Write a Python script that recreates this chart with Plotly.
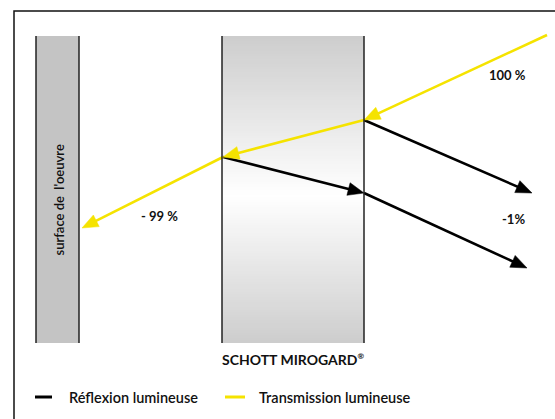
import numpy as np
import plotly.graph_objects as go

# ---- diagram data (pixel space of the 555x419 canvas) ----
frame_box = [14, 11, 700, 700]
surface_bar = [36, 79, 36, 343]          # x0, x1, y0, y1
glass_bar = [222, 364, 36, 343]
surface_label = "surface de  l'oeuvre"
glass_label = "SCHOTT MIROGARD<sup><span style='font-size:8px'>®</span></sup>"

# rays: (x0, y0, x1, y1) — arrow at end point
transmission_rays = [
    (547, 35, 364, 120),
    (364, 120, 223, 157),
    (223, 157, 82, 228),
]
reflection_rays = [
    (364, 120, 532, 193),
    (223, 157, 364, 193),
    (364, 193, 527, 268),
]
ray_labels = ["100 %", "-1%", "- 99 %"]
ray_label_pos = [(507, 75), (513, 219), (159, 216)]

legend_labels = ["Réflexion lumineuse", "Transmission lumineuse"]
legend_colors = ["#000000", "#f5e300"]
legend_line_x = [(35, 52), (225, 245)]
legend_text_x = [67, 257]
legend_y = 397

YELLOW = "#f5e300"
BLACK = "#000000"

fig = go.Figure()

# gradient for glass pane
N = 120
ys = np.linspace(glass_bar[2], glass_bar[3], N + 1)
yc = (ys[:-1] + ys[1:]) / 2
mid = 195
t = np.where(yc < mid, (mid - yc) / (mid - glass_bar[2]), (yc - mid) / (glass_bar[3] - mid))
z = (1 - t).reshape(-1, 1)
fig.add_trace(go.Heatmap(
    x=[glass_bar[0], glass_bar[1]], y=ys, z=z,
    colorscale=[[0, "#cdcdcd"], [0.6, "#ebebeb"], [1, "#ffffff"]],
    showscale=False, hoverinfo="skip", zmin=0, zmax=1))

shapes = []
shapes.append(dict(type="rect", x0=frame_box[0], y0=frame_box[1], x1=frame_box[2], y1=frame_box[3],
                   line=dict(color="#111", width=1.5), fillcolor="rgba(0,0,0,0)", layer="below"))
shapes.append(dict(type="rect", x0=surface_bar[0], x1=surface_bar[1], y0=surface_bar[2], y1=surface_bar[3],
                   line=dict(width=0), fillcolor="#c4c4c4", layer="below"))
for bar in (surface_bar, glass_bar):
    for xv in (bar[0], bar[1]):
        shapes.append(dict(type="line", x0=xv, x1=xv, y0=bar[2], y1=bar[3],
                           line=dict(color="#222", width=1.5)))

def add_ray(seg, color):
    x0, y0, x1, y1 = seg
    d = np.array([x1 - x0, y1 - y0], float)
    L = np.hypot(*d)
    u = d / L
    n = np.array([-u[1], u[0]])
    hl, hw = 16, 6.5
    base = np.array([x1, y1]) - u * hl
    fig.add_trace(go.Scatter(x=[x0, base[0] + u[0] * 2], y=[y0, base[1] + u[1] * 2], mode="lines",
                             line=dict(color=color, width=2.6), hoverinfo="skip", showlegend=False))
    p1 = base + n * hw
    p2 = base - n * hw
    fig.add_trace(go.Scatter(x=[x1, p1[0], p2[0], x1], y=[y1, p1[1], p2[1], y1], mode="lines",
                             fill="toself", fillcolor=color, line=dict(color=color, width=0.5),
                             hoverinfo="skip", showlegend=False))

for s in reflection_rays:
    add_ray(s, BLACK)
for s in transmission_rays:
    add_ray(s, YELLOW)

ann = []
ann.append(dict(x=(surface_bar[0] + surface_bar[1]) / 2 + 1, y=200, text=surface_label, textangle=-90,
                showarrow=False, font=dict(family="Lato", size=13, color="#111", weight=600)))
ann.append(dict(x=(glass_bar[0] + glass_bar[1]) / 2, y=359, text=glass_label, showarrow=False,
                font=dict(family="Lato", size=14, color="#111", weight=700)))
for lab, (px, py) in zip(ray_labels, ray_label_pos):
    ann.append(dict(x=px, y=py, text=lab, showarrow=False,
                    font=dict(family="Lato", size=13, color="#111", weight=700)))
for lab, col, (lx0, lx1), tx in zip(legend_labels, legend_colors, legend_line_x, legend_text_x):
    shapes.append(dict(type="line", x0=lx0, x1=lx1, y0=legend_y, y1=legend_y, line=dict(color=col, width=3)))
    ann.append(dict(x=tx, y=legend_y, text=lab, showarrow=False, xanchor="left",
                    font=dict(family="Lato", size=14.5, color="#111", weight=600)))

fig.update_layout(
    width=555, height=419, margin=dict(l=0, r=0, t=0, b=0),
    paper_bgcolor="white", plot_bgcolor="white", showlegend=False,
    xaxis=dict(range=[0, 555], visible=False, fixedrange=True),
    yaxis=dict(range=[419, 0], visible=False, fixedrange=True),
    shapes=shapes, annotations=ann,
)
fig.write_html("out.html", config={"displayModeBar": False},
               post_script="document.body.style.margin='0';")
